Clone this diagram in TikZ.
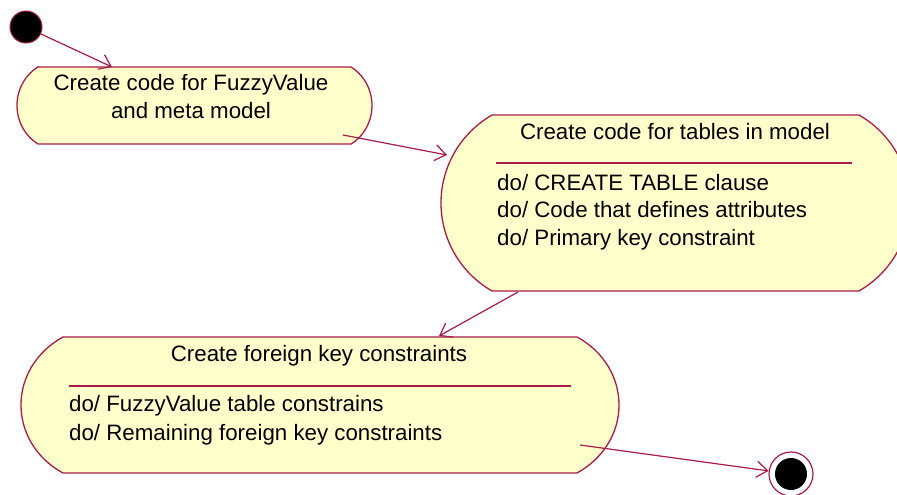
\documentclass[tikz,border=0pt]{standalone}
\usepackage{fontspec}
\setmainfont{Liberation Sans}
\usetikzlibrary{arrows.meta}
\pgfdeclarelayer{background}
\pgfsetlayers{background,main}
\definecolor{roseline}{RGB}{168,28,72}
\definecolor{rosefill}{RGB}{255,255,204}
% #1 node, #2 x radius, #3 y radius of the side arcs (arcs run from 60 to -60 degrees)
\newcommand{\rosestate}[4]{%
  \path[shp] ([xshift=#4pt]#1.north west) -- ([xshift=-#4pt]#1.north east)
    arc[start angle=60,end angle=-60,x radius=#2pt,y radius=#3pt]
    -- ([xshift=#4pt]#1.south west)
    arc[start angle=240,end angle=120,x radius=#2pt,y radius=#3pt] -- cycle;}
\begin{document}
\begin{tikzpicture}[x=1pt,y=-1pt,
  box/.style={inner sep=0pt, outer sep=0pt, draw=none},
  txt/.style={inner sep=0pt, font=\fontsize{22.3}{27}\selectfont, text=black},
  conn/.style={draw=roseline, line width=1.2pt, -{Straight Barb[length=11pt,width=16pt,line width=1.2pt]}},
  shp/.style={draw=roseline, fill=rosefill, line width=1.3pt},
  sep/.style={draw=roseline, line width=1.3pt}
]
\useasboundingbox (0,0) rectangle (897,495);
\clip (0,0) rectangle (897,495);
% state boxes
\node[box, minimum width=355pt, minimum height=77pt] (s1) at (194.5,105.5) {};
\node[box, minimum width=469pt, minimum height=176pt] (s2) at (675.5,203) {};
\node[box, minimum width=598pt, minimum height=136pt] (s3) at (320,405) {};
\begin{pgfonlayer}{background}
  \fill[white] (0,0) rectangle (897,495);
  \rosestate{s1}{42}{44.5}{21}
  \rosestate{s2}{102}{101.6}{51}
  \rosestate{s3}{84}{78.5}{42}
\end{pgfonlayer}
% initial and final states
\node[circle, fill=black, draw=roseline, line width=1pt, minimum size=32pt, inner sep=0pt] (start) at (26,27) {};
\node[circle, fill=white, draw=roseline, line width=1.2pt, minimum size=44pt, inner sep=0pt] (end) at (791,474) {};
\node[circle, fill=black, minimum size=32pt, inner sep=0pt] (endin) at (end.center) {};
% texts
\node[txt, anchor=base] (s1a) at (191,90) {Create code for FuzzyValue};
\node[txt, anchor=base] (s1b) at (191,118) {and meta model};
\node[txt, anchor=base] (s2t) at (675,139) {Create code for tables in model};
\node[txt, anchor=base west] (s2a) at (497,190) {do/ CREATE TABLE clause};
\node[txt, anchor=base west] (s2b) at (497,217) {do/ Code that defines attributes};
\node[txt, anchor=base west] (s2c) at (497,245) {do/ Primary key constraint};
\node[txt, anchor=base] (s3t) at (319,361) {Create foreign key constraints};
\node[txt, anchor=base west] (s3a) at (69,411) {do/ FuzzyValue table constrains};
\node[txt, anchor=base west] (s3b) at (69,440) {do/ Remaining foreign key constraints};
% separators
\path[sep] (496,163) -- (852,163);
\path[sep] (69,386) -- (571,386);
% connectors
\coordinate (t1) at (112,67);
\coordinate (c2s) at (343,135);
\coordinate (t2) at (447,155);
\coordinate (c3s) at (518,292);
\coordinate (t3) at (439,336);
\coordinate (c4s) at (580,445);
\draw[conn] (start) -- (t1);
\draw[conn] (c2s) -- (t2);
\draw[conn] (c3s) -- (t3);
\draw[conn] (c4s) -- (end);
\end{tikzpicture}
\end{document}
